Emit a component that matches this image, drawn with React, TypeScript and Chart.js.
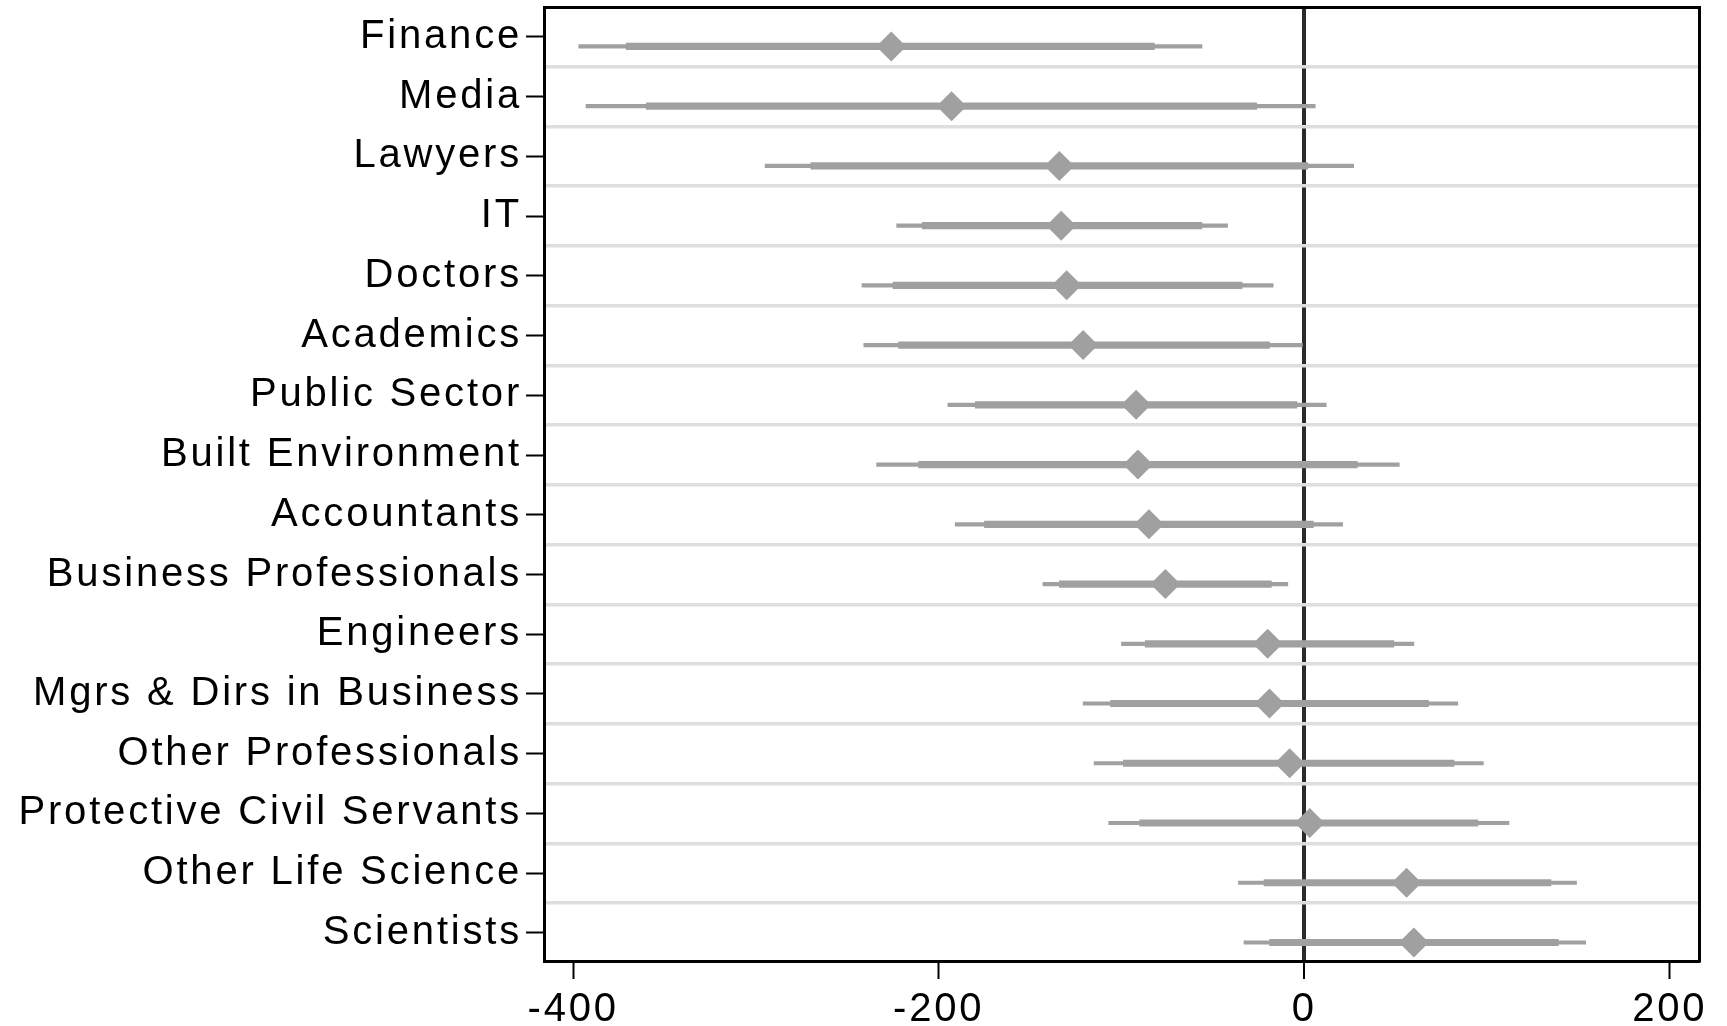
import React, { useEffect, useRef } from 'react';
import { Chart, registerables } from 'chart.js';

Chart.register(...registerables);

const categories = [
  'Finance',
  'Media',
  'Lawyers',
  'IT',
  'Doctors',
  'Academics',
  'Public Sector',
  'Built Environment',
  'Accountants',
  'Business Professionals',
  'Engineers',
  'Mgrs & Dirs in Business',
  'Other Professionals',
  'Protective Civil Servants',
  'Other Life Science',
  'Scientists',
];

const estimates = [-226, -193, -134, -133, -130, -121, -92, -91, -85, -76, -20, -19, -8, 3, 56, 60];
const ci90Low = [-371, -360, -270, -209, -225, -222, -180, -211, -175, -134, -87, -106, -99, -90, -22, -19];
const ci90High = [-82, -26, 2, -56, -34, -19, -4, 29, 5, -18, 49, 68, 82, 95, 135, 139];
const ci95Low = [-397, -393, -295, -223, -242, -241, -195, -234, -191, -143, -100, -121, -115, -107, -36, -33];
const ci95High = [-56, 6, 27, -42, -17, -1, 12, 52, 21, -9, 60, 84, 98, 112, 149, 154];

const xTickValues = [-400, -200, 0, 200];

const MARK_OFFSET = 0.16;
const GREY = '#a0a0a0';
const FONT = { family: '"Liberation Sans", Arial, Helvetica, sans-serif', size: 40 };

const zeroPadding = (scale: any) => {
  scale.paddingTop = 0;
  scale.paddingBottom = 0;
  scale.paddingLeft = 0;
  scale.paddingRight = 0;
};

export default function App() {
  const canvasRef = useRef<HTMLCanvasElement | null>(null);

  useEffect(() => {
    const canvas = canvasRef.current;
    if (!canvas) return;

    const rows = categories.map((_, i) => i + 1);
    const gridRows = rows.slice(0, -1).map((r) => r + 0.5);
    const markY = rows.map((r) => r + MARK_OFFSET);

    const spacingPlugin = {
      id: 'labelSpacing',
      beforeDraw(chart: any) {
        (chart.ctx as any).letterSpacing = '2.8px';
      },
      afterDraw(chart: any) {
        (chart.ctx as any).letterSpacing = '0px';
      },
    };

    const chart = new Chart(canvas, {
      type: 'bar',
      data: {
        datasets: [
          {
            type: 'bar',
            label: '95% CI',
            indexAxis: 'y',
            data: categories.map((_, i) => ({ x: [ci95Low[i], ci95High[i]], y: markY[i] })),
            backgroundColor: GREY,
            borderWidth: 0,
            barThickness: 3.5,
            grouped: false,
            order: 2,
            xAxisID: 'x',
            yAxisID: 'y',
          } as any,
          {
            type: 'bar',
            label: '90% CI',
            indexAxis: 'y',
            data: categories.map((_, i) => ({ x: [ci90Low[i], ci90High[i]], y: markY[i] })),
            backgroundColor: GREY,
            borderWidth: 0,
            barThickness: 6.5,
            grouped: false,
            order: 1,
            xAxisID: 'x',
            yAxisID: 'y',
          } as any,
          {
            type: 'scatter',
            label: 'Estimate',
            data: categories.map((_, i) => ({ x: estimates[i], y: markY[i] })),
            pointStyle: 'rectRot',
            pointRadius: 15,
            pointHoverRadius: 15,
            backgroundColor: GREY,
            borderWidth: 0,
            order: 0,
            xAxisID: 'x',
            yAxisID: 'y',
          } as any,
        ],
      },
      options: {
        animation: false,
        responsive: true,
        maintainAspectRatio: false,
        layout: { autoPadding: false, padding: { top: 7, right: 28, bottom: 0, left: 0 } },
        plugins: {
          legend: { display: false },
          tooltip: { enabled: false },
        },
        scales: {
          x: {
            type: 'linear',
            position: 'bottom',
            offset: false,
            beginAtZero: false,
            min: -416,
            max: 216,
            afterBuildTicks: (scale: any) => {
              scale.ticks = xTickValues.map((v) => ({ value: v }));
            },
            afterFit: (scale: any) => {
              scale.height = 65;
              zeroPadding(scale);
            },
            grid: {
              offset: false,
              drawOnChartArea: true,
              color: (ctx: any) => (ctx.tick && ctx.tick.value === 0 ? '#2a2a2a' : 'rgba(0,0,0,0)'),
              lineWidth: (ctx: any) => (ctx.tick && ctx.tick.value === 0 ? 4 : 1),
              drawTicks: true,
              tickLength: 18,
              tickColor: '#000',
              tickWidth: 2,
            },
            border: { display: true, color: '#000', width: 3 },
            ticks: {
              font: FONT,
              color: '#000',
              padding: 7,
              maxRotation: 0,
              autoSkip: false,
            },
          },
          y: {
            type: 'linear',
            position: 'left',
            offset: false,
            beginAtZero: false,
            min: 0.5,
            max: 16.47,
            reverse: true,
            afterBuildTicks: (scale: any) => {
              scale.ticks = rows.map((v) => ({ value: v }));
            },
            afterFit: (scale: any) => {
              scale.width = 544;
              zeroPadding(scale);
            },
            grid: {
              offset: false,
              drawOnChartArea: false,
              drawTicks: true,
              tickLength: 18,
              tickColor: '#000',
              tickWidth: 2,
              color: '#000',
            },
            border: { display: true, color: '#000', width: 3 },
            ticks: {
              font: FONT,
              color: '#000',
              padding: 4,
              autoSkip: false,
              callback: (value: any) => categories[Math.round(Number(value)) - 1] ?? '',
            },
          },
          yGrid: {
            type: 'linear',
            position: 'right',
            offset: false,
            beginAtZero: false,
            min: 0.5,
            max: 16.47,
            reverse: true,
            afterBuildTicks: (scale: any) => {
              scale.ticks = gridRows.map((v) => ({ value: v }));
            },
            afterFit: (scale: any) => {
              scale.width = 0;
              zeroPadding(scale);
            },
            grid: {
              offset: false,
              drawOnChartArea: true,
              drawTicks: false,
              color: '#dedede',
              lineWidth: 3.5,
            },
            border: { display: true, color: '#000', width: 3 },
            ticks: { display: false },
          },
          xTop: {
            type: 'linear',
            position: 'top',
            offset: false,
            beginAtZero: false,
            min: -416,
            max: 216,
            afterFit: (scale: any) => {
              scale.height = 0;
              zeroPadding(scale);
            },
            grid: { offset: false, drawOnChartArea: false, drawTicks: false },
            border: { display: true, color: '#000', width: 3 },
            ticks: { display: false },
          },
        },
      } as any,
      plugins: [spacingPlugin],
    });

    return () => {
      chart.destroy();
    };
  }, []);

  return (
    <div style={{ position: 'fixed', left: 0, top: 0, width: 1727, height: 1026, background: '#fff' }}>
      <canvas ref={canvasRef} />
    </div>
  );
}
